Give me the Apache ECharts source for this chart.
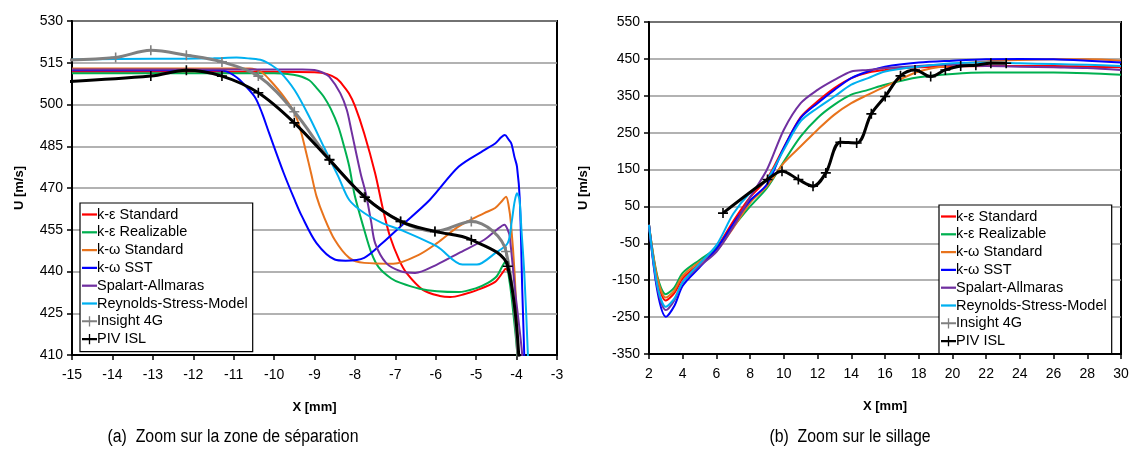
<!DOCTYPE html>
<html><head><meta charset="utf-8">
<script src="https://cdn.jsdelivr.net/npm/echarts@6/dist/echarts.min.js"></script>
<style>html,body{margin:0;padding:0;background:#fff}#c{width:1132px;height:455px}</style>
</head><body><div id="c"></div>
<script>
// ---------- names ----------
const seriesNames = ['k-ε Standard','k-ε Realizable','k-ω Standard','k-ω SST','Spalart-Allmaras','Reynolds-Stress-Model','Insight 4G','PIV ISL'];
const seriesColors = ['#ff0000','#00b050','#e8731c','#0000ff','#7030a0','#00b0f0','#808080','#000000'];

// ---------- (a) separation zone : [x mm, U m/s] ----------
const sepKeStandard = [[-15,511.8],[-12,511.8],[-10,511.8],[-9,511.6],[-8.7,511],[-8.45,509.3],[-8.3,507],[-8.15,504],[-8.0,499.5],[-7.77,489.6],[-7.5,475.3],[-7.3,462],[-7.13,452.5],[-6.9,444],[-6.72,439.4],[-6.31,433.3],[-5.9,431.2],[-5.64,430.8],[-5.3,431.8],[-4.98,433.3],[-4.53,436.3],[-4.35,439.5],[-4.27,441],[-4.15,438],[-4.05,425],[-3.97,410],[-3.95,400]];
const sepKeRealizable = [[-15,511.2],[-10,511.2],[-9.67,511],[-9.4,510.3],[-9.13,508.7],[-8.95,506],[-8.77,502.8],[-8.6,498.5],[-8.41,492],[-8.25,484],[-8.14,477.7],[-8.0,467],[-7.77,455],[-7.6,447],[-7.41,441.5],[-7.1,437.5],[-6.87,435.9],[-6.4,433.8],[-5.97,432.9],[-5.43,432.6],[-5.0,434],[-4.71,435.9],[-4.49,438.3],[-4.35,442],[-4.28,443.5],[-4.17,436],[-4.08,425],[-3.98,410],[-3.96,400]];
const sepKwStandard = [[-15,512.9],[-10.6,512.9],[-10.3,511.5],[-10.1,508.7],[-9.76,502.8],[-9.49,496.8],[-9.35,491],[-9.22,483.6],[-9.08,475],[-8.95,467],[-8.77,459.8],[-8.5,451.4],[-8.14,444.9],[-7.77,443.1],[-7.05,442.8],[-6.42,446],[-5.97,450.2],[-5.43,456.2],[-4.8,461],[-4.53,462.8],[-4.35,465.5],[-4.26,466.9],[-4.2,464],[-4.14,457.4],[-4.05,439.5],[-3.96,410],[-3.94,400]];
const sepKwSST = [[-15,512.3],[-11.5,512.3],[-11.2,512],[-11,510.5],[-10.84,508.7],[-10.48,502.8],[-10.3,497],[-10.12,489.6],[-9.76,475.3],[-9.49,465.7],[-9.31,459.8],[-8.95,450.2],[-8.5,444.3],[-8.23,443.9],[-7.77,444.9],[-7.32,450.2],[-6.87,456.2],[-6.15,465.7],[-5.43,477.7],[-4.8,483.6],[-4.53,486],[-4.38,488.2],[-4.29,489],[-4.2,487.5],[-4.13,486],[-4.05,481],[-3.99,477.7],[-3.92,465.7],[-3.86,433.5],[-3.81,410],[-3.8,400]];
const sepSpalart = [[-15,512.6],[-9.3,512.6],[-9.0,512.4],[-8.8,511.5],[-8.63,509.9],[-8.36,504],[-8.2,498],[-8.09,490.8],[-7.86,475.3],[-7.73,468],[-7.6,458],[-7.5,450.2],[-7.23,443.1],[-6.87,440.1],[-6.51,439.5],[-5.97,442.5],[-5.43,446.6],[-4.8,451.4],[-4.49,455],[-4.3,456.8],[-4.22,455],[-4.17,452.6],[-4.04,433.5],[-3.86,410],[-3.84,400]];
const sepRSM = [[-15,516.2],[-13,516.4],[-11.5,516.6],[-10.93,516.9],[-10.6,516.5],[-10.3,515.9],[-10.05,514],[-9.85,511.7],[-9.49,505.1],[-9.13,495.6],[-8.77,484.8],[-8.41,474.1],[-8.14,465.7],[-7.77,461],[-7.32,457.4],[-6.87,455],[-5.97,449],[-5.34,442.5],[-4.98,442.5],[-4.53,446.6],[-4.22,450.2],[-4.12,458],[-4.05,465],[-3.99,468.1],[-3.93,466],[-3.88,455],[-3.81,439.5],[-3.72,410],[-3.71,400]];
const sepInsight = [[-15.6,515.8],[-13.92,516.9],[-13.05,519.5],[-12.17,517.7],[-11.29,515.3],[-10.39,510.2],[-9.5,497.4],[-8.63,480.3],[-7.77,466.9],[-6.87,458],[-6.02,454.4],[-5.12,458],[-4.26,447.2],[-3.9,380]];
const sepPIV = [[-15.9,507.6],[-13.05,510.2],[-12.17,512.3],[-11.29,510.2],[-10.39,504.2],[-9.5,493.4],[-8.63,480.1],[-7.75,466.7],[-6.87,458],[-6.02,454.4],[-5.12,451.4],[-4.22,441.9],[-3.88,380]];

// ---------- (b) wake : x positions and U values ----------
const wakeX = [2,2.5,3,3.5,4,5,6,7,8,9,10,11,12,13,14,15,16,18,20,22,24,26,28,30];
const wakeKeStandard   = [0,-150,-205,-185,-145,-105,-62,10,75,125,210,292,335,371,398,413,420,427,429,431,431,431,429,427];
const wakeKeRealizable = [0,-140,-188,-170,-130,-95,-62,-5,50,100,172,240,290,326,353,366,380,400,409,413,413,413,411,407];
const wakeKwStandard   = [0,-145,-197,-178,-138,-100,-70,-8,60,105,168,213,258,299,330,353,375,416,434,443,447,449,449,445];
const wakeKwSST        = [0,-180,-249,-220,-165,-115,-65,3,66,110,209,290,330,366,398,416,429,440,445,449,450,449,445,440];
const wakeSpalart      = [0,-170,-231,-205,-155,-112,-73,-5,75,150,258,330,366,393,416,420,425,431,434,431,429,427,425,420];
const wakeRSM          = [0,-165,-222,-200,-155,-105,-55,30,87,123,204,281,317,348,380,398,416,429,438,440,438,436,434,431];
const wakePIVx = [6.39,9.03,9.89,10.86,11.73,12.49,13.35,14.32,15.19,16.01,16.92,17.78,18.71,19.58,20.49,21.39,22.28,23.19];
const wakePIVy = [32,123,145.5,123,105,141,224,222,301,348,404,420,402,420,431,433,438,438];

// ---------- axis ticks ----------
const sepXTicks = {min:-15, max:-3, interval:1};
const sepYTicks = {min:410, max:530, interval:15};
const wakeXTicks = {min:2, max:30, interval:2};
const wakeYTicks = {min:-350, max:550, interval:100};

const FONT = "'Liberation Sans', Arial, sans-serif";
const plus = 'path://M4.2,0H5.8V10H4.2Z M0,4.2H10V5.8H0Z';
const iconLine = 'path://M0,0H16V2.4H0Z';
const iconPlus = 'path://M0,4.4H16V6.6H0Z M7.3,0H8.7V11H7.3Z M3,4.8H13V6.2H3Z';
const zip = (xs, ys) => xs.map((x,i)=>[x, ys[i]]);

function axisCommon(t){
  return {
    type:'value', min:t.min, max:t.max, interval:t.interval,
    axisLine:{show:true, onZero:false, lineStyle:{color:'#000', width:2}},
    axisTick:{show:true, inside:false, length:5, lineStyle:{color:'#000', width:1.5}},
  };
}

const sepData = [sepKeStandard, sepKeRealizable, sepKwStandard, sepKwSST, sepSpalart, sepRSM, sepInsight, sepPIV];
const wakeData = [
  zip(wakeX, wakeKeStandard), zip(wakeX, wakeKeRealizable), zip(wakeX, wakeKwStandard),
  zip(wakeX, wakeKwSST), zip(wakeX, wakeSpalart), zip(wakeX, wakeRSM),
  [], zip(wakePIVx, wakePIVy)
];

const series = [];
[sepData, wakeData].forEach((set, gi) => {
  set.forEach((d, i) => {
    const measured = i >= 6;
    series.push({
      name: seriesNames[i], type:'line', xAxisIndex:gi, yAxisIndex:gi,
      data: d, smooth: measured ? 0.35 : 0.3,
      clip:true,
      symbol: measured ? plus : 'none', symbolSize: 10, showSymbol: measured,
      lineStyle:{color:seriesColors[i], width: measured ? 3 : 2},
      itemStyle:{color:seriesColors[i]},
      z: 2 + i, animation:false, silent:true
    });
  });
});

function legendAt(left, top){
  return {
    left, top, orient:'vertical',
    data: seriesNames.map((n,i)=>({name:n, icon: i>=6 ? iconPlus : iconLine})),
    backgroundColor:'#fff', borderColor:'#000', borderWidth:1.2,
    padding:[4,5,5,2], itemGap:2.8, itemWidth:15, itemHeight:13,
    symbolKeepAspect:true,
    textStyle:{fontFamily:FONT, fontSize:14.5, color:'#000', lineHeight:15, padding:[0,0,0,-5]},
    selectedMode:false
  };
}

const chart = echarts.init(document.getElementById('c'), null, {renderer:'canvas'});
const lbl = (m)=>({color:'#000', fontFamily:FONT, fontSize:14, margin:m});
chart.setOption({
  animation:false,
  backgroundColor:'#fff',
  grid:[
    {left:72, right:575, top:21, bottom:100, show:true, borderColor:'#000', borderWidth:2, backgroundColor:'transparent'},
    {left:649, right:11, top:22, bottom:101, show:true, borderColor:'#000', borderWidth:2, backgroundColor:'transparent'}
  ],
  xAxis:[
    Object.assign(axisCommon(sepXTicks), {gridIndex:0, splitLine:{show:false},
      name:'X [mm]', nameLocation:'middle', nameGap:46,
      nameTextStyle:{fontFamily:FONT, fontWeight:'bold', fontSize:13, color:'#000'},
      axisLabel:lbl(13)}),
    Object.assign(axisCommon(wakeXTicks), {gridIndex:1, splitLine:{show:false},
      name:'X [mm]', nameLocation:'middle', nameGap:46,
      nameTextStyle:{fontFamily:FONT, fontWeight:'bold', fontSize:13, color:'#000'},
      axisLabel:lbl(13)})
  ],
  yAxis:[
    Object.assign(axisCommon(sepYTicks), {gridIndex:0,
      splitLine:{show:true, lineStyle:{color:'#999', width:1.6}},
      name:'U [m/s]', nameLocation:'middle', nameGap:46, nameRotate:90,
      nameTextStyle:{fontFamily:FONT, fontWeight:'bold', fontSize:13, color:'#000'},
      axisLabel:lbl(9)}),
    Object.assign(axisCommon(wakeYTicks), {gridIndex:1,
      splitLine:{show:true, lineStyle:{color:'#999', width:1.6}},
      name:'U [m/s]', nameLocation:'middle', nameGap:59, nameRotate:90,
      nameTextStyle:{fontFamily:FONT, fontWeight:'bold', fontSize:13, color:'#000'},
      axisLabel:lbl(9)})
  ],
  legend:[legendAt(80,203), legendAt(939,205)],
  graphic:[
    {type:'text', x:233, y:437, scaleX:0.88, style:{text:'(a)  Zoom sur la zone de séparation', textAlign:'center', textVerticalAlign:'middle', font:"18px 'Liberation Sans', sans-serif", fill:'#000'}},
    {type:'text', x:850, y:437, scaleX:0.88, style:{text:'(b)  Zoom sur le sillage', textAlign:'center', textVerticalAlign:'middle', font:"18px 'Liberation Sans', sans-serif", fill:'#000'}}
  ],
  series
});
</script>
</body></html>
